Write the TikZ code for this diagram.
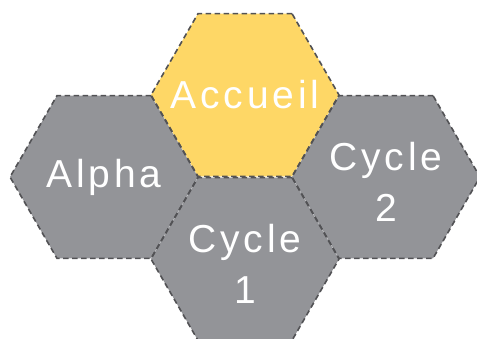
\documentclass[tikz,border=0pt]{standalone}
\usepackage{fontspec}
\newfontfamily\hexfont[LetterSpace=10]{Liberation Sans}
\usetikzlibrary{shapes.geometric}
\definecolor{hexgray}{RGB}{147,148,152}
\definecolor{hexyellow}{RGB}{254,215,102}
\definecolor{hexline}{RGB}{82,82,85}
\begin{document}
\begin{tikzpicture}[x=1pt,y=-1pt,
        hex/.style={regular polygon,regular polygon sides=6,minimum size=188pt,
                    inner sep=0pt,outer sep=0pt,draw=hexline,line width=1.6pt,
                    dash pattern=on 5.5pt off 3.5pt},
        grey hex/.style={hex,fill=hexgray},
        main hex/.style={hex,fill=hexyellow},
        hex label/.style={text=white,align=center,
                    font=\hexfont\fontsize{39}{51}\selectfont}]
        \useasboundingbox (0,0) rectangle (477,339);

        % Define hexagons
        \node[main hex] (acc) at (245,95) {};
        \node[grey hex] (alpha) at (104,177) {};
        \node[grey hex] (cyc2) at (386,177) {};
        \node[grey hex] (cyc1) at (245,259) {};

        % Labels
        \node[hex label] (accT) at (acc) {Accueil};
        \node[hex label] (alphaT) at (alpha) {Alpha};
        \node[hex label,yshift=-5pt] (cyc2T) at (cyc2) {Cycle\\2};
        \node[hex label,yshift=-5pt] (cyc1T) at (cyc1) {Cycle\\1};
\end{tikzpicture}
\end{document}
